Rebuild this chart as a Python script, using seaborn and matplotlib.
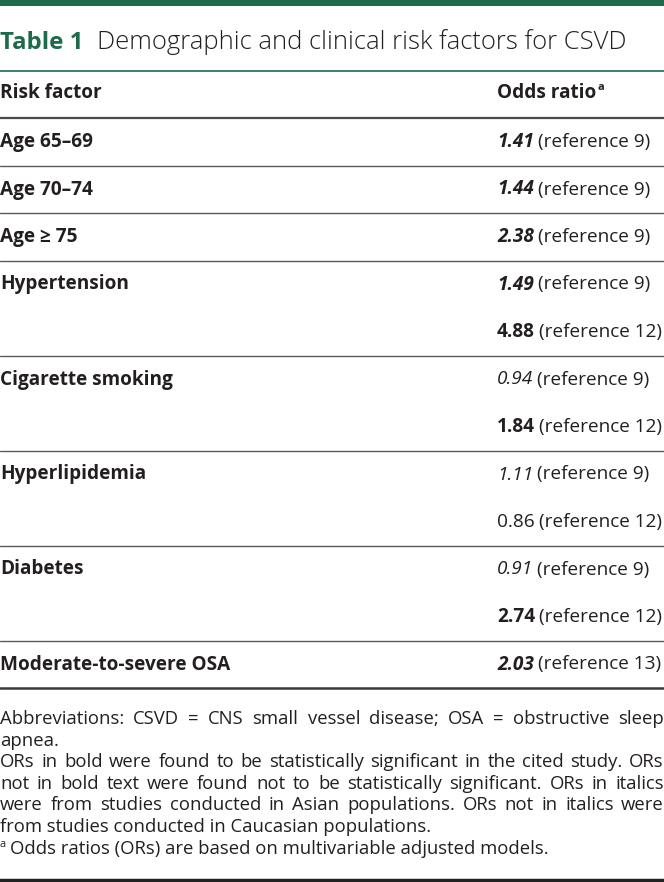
import matplotlib
matplotlib.use("Agg")
import matplotlib.pyplot as plt
import seaborn as sns

# table content
risk_factors = ["Age 65–69", "Age 70–74", "Age ≥ 75", "Hypertension",
                "Cigarette smoking", "Hyperlipidemia", "Diabetes",
                "Moderate-to-severe OSA"]
odds_ratios = [["1.41"], ["1.44"], ["2.38"], ["1.49", "4.88"], ["0.94", "1.84"],
               ["1.11", "0.86"], ["0.91", "2.74"], ["2.03"]]
references = [[9], [9], [9], [9, 12], [9, 12], [9, 12], [9, 12], [13]]
significant = [[True], [True], [True], [True, True], [False, True],
                [False, False], [False, True], [True]]
asian = [[True], [True], [True], [True, False], [True, False],
         [True, False], [True, False], [True]]

title_label = "Table 1"
title_text = "Demographic and clinical risk factors for CSVD"
col_headers = ["Risk factor", "Odds ratio"]
notes = [
    ["Abbreviations: CSVD = CNS small vessel disease; OSA = obstructive sleep",
     "apnea."],
    ["ORs in bold were found to be statistically significant in the cited study. ORs",
     "not in bold text were found not to be statistically significant. ORs in italics",
     "were from studies conducted in Asian populations. ORs not in italics were",
     "from studies conducted in Caucasian populations."],
]
footnote = "Odds ratios (ORs) are based on multivariable adjusted models."

sns.set_theme(style="white")
plt.rcParams["font.family"] = ["Open Sans", "DejaVu Sans"]

W, H = 664, 882
GREEN = "#1d6b4b"
TEXT = "#231f20"
PT = 0.72  # px -> pt at 100 dpi

fig = plt.figure(figsize=(W / 100, H / 100), dpi=100)
ax = fig.add_axes([0, 0, 1, 1])
ax.set_xlim(0, W)
ax.set_ylim(H, 0)
ax.axis("off")
renderer = fig.canvas.get_renderer()


def width(t):
    return t.get_window_extent(renderer).width


# top bar and title
ax.axhline(3, color=GREEN, lw=6 * PT)
ax.text(0, 49, title_label, color=GREEN, fontsize=24 * PT, fontweight="bold",
        va="baseline")
ax.text(97, 49, title_text, color=TEXT, fontsize=25.6 * PT,
        fontweight="light", va="baseline")
ax.axhline(71, color=GREEN, lw=1.2)

# header
val_x = 497
fs_row = 19 * PT
ax.text(0, 98, col_headers[0], color=TEXT, fontsize=fs_row, fontweight="bold",
        va="baseline")
h = ax.text(val_x, 98, col_headers[1], color=TEXT, fontsize=fs_row,
            fontweight="bold", va="baseline")
ax.text(val_x + width(h) + 1, 90, "a", color=TEXT, fontsize=11 * PT,
        fontweight="bold", va="baseline")
ax.axhline(118, color="#4a4a4a", lw=1.6)

# body rows
row_h = 47.5
y = 118
for i, name in enumerate(risk_factors):
    ax.text(0, y + 29, name, color=TEXT, fontsize=fs_row, fontweight="bold",
            va="baseline")
    for j, val in enumerate(odds_ratios[i]):
        base = y + 29 + j * row_h
        v = ax.text(val_x, base, val, color=TEXT, fontsize=fs_row,
                    fontweight="bold" if significant[i][j] else "normal",
                    fontstyle="italic" if asian[i][j] else "normal",
                    va="baseline")
        ax.text(val_x + width(v) + 4, base, f"(reference {references[i][j]})",
                color=TEXT, fontsize=fs_row, va="baseline")
    y += row_h * len(odds_ratios[i])
    last = i == len(risk_factors) - 1
    ax.axhline(y, color="#3a3a3a" if last else "#5a5a5a", lw=1.8 if last else 1.0)


# footnotes, justified like the source
def justified(line, base, fs):
    words = line.split(" ")
    ts = [ax.text(0, base, w, color=TEXT, fontsize=fs, va="baseline") for w in words]
    ws = [width(tt) for tt in ts]
    gap = (W - sum(ws)) / (len(words) - 1)
    x = 0
    for tt, ww in zip(ts, ws):
        tt.set_x(x)
        x += ww + gap


fs_note = 18.5 * PT
base = 724
for para in notes:
    for k, line in enumerate(para):
        if k < len(para) - 1:
            justified(line, base, fs_note)
        else:
            ax.text(0, base, line, color=TEXT, fontsize=fs_note, va="baseline")
        base += 21.6
ax.text(0, base - 7, "a", color=TEXT, fontsize=11 * PT, va="baseline")
ax.text(10, base, footnote, color=TEXT, fontsize=fs_note, va="baseline")

ax.axhline(880, color="#222222", lw=2.5)

fig.savefig("out.png", dpi=100)
